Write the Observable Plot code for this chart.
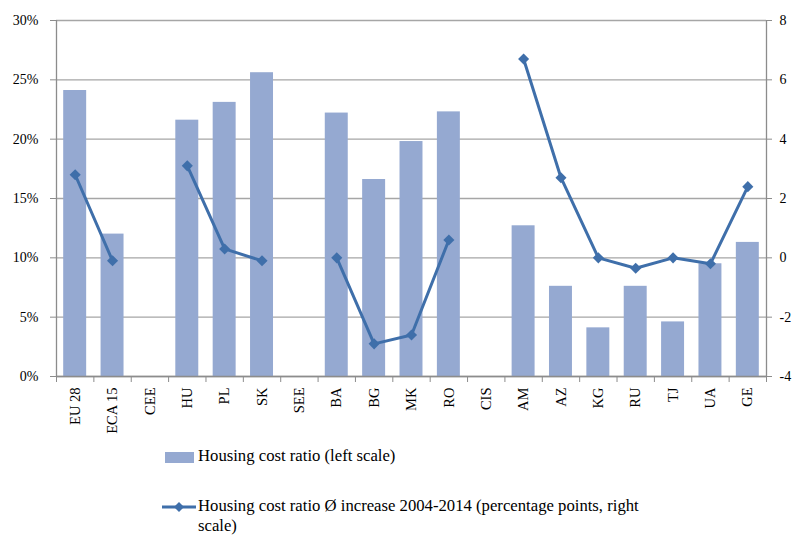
<!DOCTYPE html>
<html>
<head>
<meta charset="utf-8">
<script src="https://cdn.jsdelivr.net/npm/d3@7"></script>
<script src="https://cdn.jsdelivr.net/npm/@observablehq/plot@0.6"></script>
<style>
  body { margin: 0; background: #fff; font-family: "Liberation Serif", "DejaVu Serif", serif; }
  #wrap { position: relative; width: 793px; height: 537px; overflow: hidden; }
  .lg { position: absolute; font-size: 16.7px; color: #000; line-height: 20px; }
</style>
</head>
<body>
<div id="wrap">
  <div id="chart"></div>
  <div style="position:absolute;left:165px;top:452px;width:29px;height:11px;background:#95a9d1;"></div>
  <div class="lg" style="left:198px;top:446px;">Housing cost ratio (left scale)</div>
  <svg style="position:absolute;left:162px;top:501px;" width="34" height="12">
    <line x1="0" x2="34" y1="6" y2="6" stroke="#3f6faa" stroke-width="3"/>
    <path d="M17,1 L22,6 L17,11 L12,6 Z" fill="#3f6faa"/>
  </svg>
  <div class="lg" style="left:198px;top:496px;width:460px;">Housing cost ratio Ø increase 2004-2014 (percentage points, right scale)</div>
</div>
<script>
const categories = ["EU 28","ECA 15","CEE","HU","PL","SK","SEE","BA","BG","MK","RO","CIS","AM","AZ","KG","RU","TJ","UA","GE"];
const housingCostRatio = [24.1, 12.0, null, 21.6, 23.1, 25.6, null, 22.2, 16.6, 19.8, 22.3, null, 12.7, 7.6, 4.1, 7.6, 4.6, 9.5, 11.3];
const avgIncrease = [2.8, -0.1, null, 3.1, 0.3, -0.1, null, 0.0, -2.9, -2.6, 0.6, null, 6.7, 2.7, 0.0, -0.35, 0.0, -0.2, 2.4];
const leftTicks = [0, 5, 10, 15, 20, 25, 30];
const rightTicks = [-4, -2, 0, 2, 4, 6, 8];

const data = categories.map((c, i) => ({i, cat: c, bar: housingCostRatio[i], inc: avgIncrease[i]}));
const toLeft = d3.scaleLinear([-4, 8], [0, 30]);
const barColor = "#95a9d1";
const lineColor = "#3f6faa";
const axisColor = "#8c8c8c";

const chart = Plot.plot({
  width: 793,
  height: 440,
  marginLeft: 56,
  marginRight: 27,
  marginTop: 20,
  marginBottom: 64,
  x: {domain: [0, categories.length], axis: null},
  y: {domain: [0, 30], axis: null},
  style: {fontFamily: "Liberation Serif, DejaVu Serif, serif", fontSize: "14px", color: "#000", background: "#fff"},
  marks: [
    Plot.ruleY(leftTicks, {stroke: "#a6a6a6", strokeWidth: 1.3}),
    Plot.rectY(data.filter(d => d.bar != null), {x1: "i", x2: d => d.i + 1, y: "bar", fill: barColor, insetLeft: 7.2, insetRight: 7.2}),
    Plot.ruleX([0, categories.length], {stroke: axisColor, strokeWidth: 1.3}),
    Plot.ruleY([0], {stroke: axisColor, strokeWidth: 1.3}),
    Plot.axisY({ticks: leftTicks, anchor: "left", tickFormat: d => d + "%", tickSize: 6, tickPadding: 12, stroke: axisColor, label: null}),
    Plot.axisY({ticks: rightTicks.map(v => toLeft(v)), anchor: "right", tickFormat: d => String(Math.round(toLeft.invert(d))), tickSize: 5, tickPadding: 8, stroke: axisColor, label: null}),
    Plot.axisX({ticks: d3.range(categories.length + 1), tickFormat: () => "", tickSize: 6, stroke: axisColor, label: null}),
    Plot.axisX({ticks: d3.range(categories.length).map(i => i + 0.5), tickFormat: d => categories[Math.floor(d)], tickSize: 0, tickPadding: 11, tickRotate: -90, fontSize: 14.5, label: null}),
    Plot.line(data, {x: d => d.i + 0.5, y: d => d.inc == null ? NaN : toLeft(d.inc), stroke: lineColor, strokeWidth: 3}),
    Plot.dot(data.filter(d => d.inc != null), {x: d => d.i + 0.5, y: d => toLeft(d.inc), symbol: "diamond2", r: 5, fill: lineColor, stroke: "none"})
  ]
});
document.getElementById("chart").appendChild(chart);
</script>
</body>
</html>
